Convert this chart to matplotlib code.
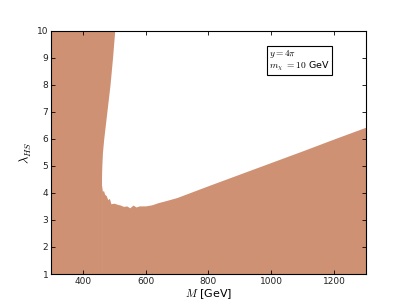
import numpy as np
import matplotlib
matplotlib.use('Agg')
import matplotlib.pyplot as plt

# excluded region boundaries
# left edge of the allowed (white) region
lam_left = [10.0, 9.0, 8.0, 7.0, 6.0, 5.5, 5.0, 4.6, 4.3]
M_left = [502, 495, 487, 477, 467, 463, 461, 460, 460]

# lower edge of the allowed region
M_low = [460, 463, 466, 470, 475, 480, 485, 490, 500, 510, 520, 530, 540,
         550, 560, 570, 580, 600, 620, 640, 660, 700, 750, 800, 900, 1000,
         1100, 1200, 1300]
lam_low = [4.3, 4.05, 4.1, 3.95, 3.9, 3.75, 3.8, 3.6, 3.62, 3.58, 3.55, 3.5,
           3.52, 3.45, 3.55, 3.48, 3.52, 3.52, 3.56, 3.64, 3.70, 3.83, 4.05,
           4.27, 4.70, 5.13, 5.56, 6.00, 6.43]

color = '#cf9173'

plt.rcParams['mathtext.fontset'] = 'cm'

fig = plt.figure(figsize=(4.07, 3.05), dpi=100)
ax = fig.add_axes([0.1258, 0.1016, 0.7727, 0.7977])

ax.fill_between(M_low, 1, lam_low, color=color, lw=0)
ax.fill_betweenx(lam_left, 300, M_left, color=color, lw=0)
ax.fill_between([300, 461], 1, 4.35, color=color, lw=0)

ax.set_xlim(300, 1300)
ax.set_ylim(1, 10)
ax.set_xticks([400, 600, 800, 1000, 1200])
ax.set_yticks(range(1, 11))
ax.tick_params(direction='in', top=True, right=True, length=3, width=0.6,
               labelsize=6.5, pad=2, labelcolor='#222222')
for s in ax.spines.values():
    s.set_linewidth(0.8)

ax.set_xlabel(r'$M$ [GeV]', fontsize=8, labelpad=1)
ax.set_ylabel(r'$\lambda_{HS}$', fontsize=9, labelpad=2)

ax.text(0.692, 0.93, '$y=4\\pi$\n$m_\\chi$ $=10$ GeV', transform=ax.transAxes,
        fontsize=6.8, va='top', ha='left', linespacing=1.0,
        bbox=dict(boxstyle='square,pad=0.22', fc='white', ec='black', lw=0.8))

fig.savefig('out.png', dpi=100)
